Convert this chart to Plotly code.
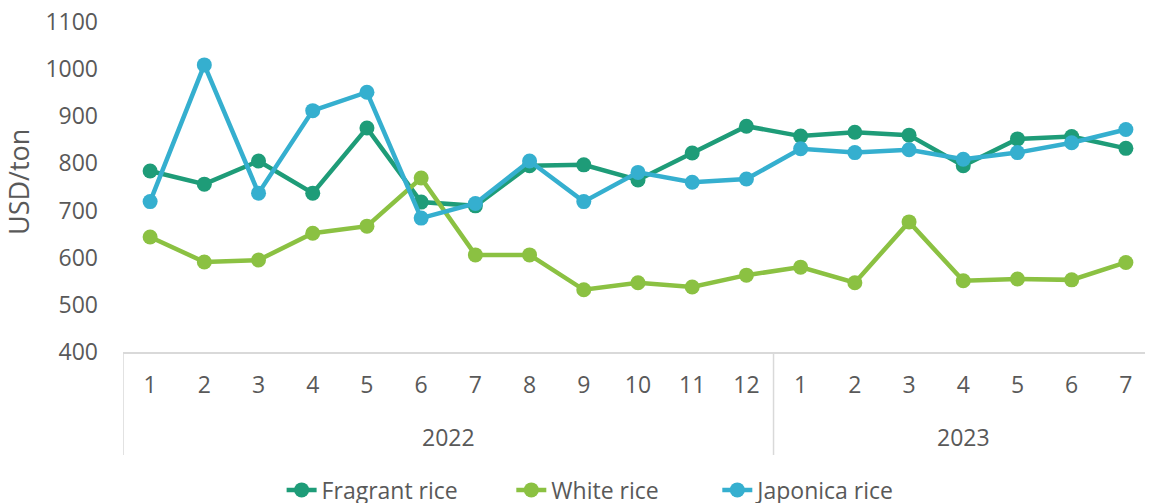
import plotly.graph_objects as go

years = ["2022"] * 12 + ["2023"] * 7
months = [str(m) for m in range(1, 13)] + [str(m) for m in range(1, 8)]
categories = [f"{y}-{m}" for y, m in zip(years, months)]

fragrant = [784, 756, 805, 737, 875, 718, 710, 795, 797, 765, 822, 879,
            858, 866, 860, 795, 852, 857, 832]
white = [644, 591, 595, 652, 667, 769, 606, 606, 532, 547, 538, 563,
         580, 547, 676, 551, 555, 553, 590]
japonica = [719, 1009, 737, 912, 951, 684, 715, 805, 719, 781, 760, 767,
            831, 823, 829, 809, 823, 844, 872]

series = [
    ("Fragrant rice", fragrant, "#1E9C78", "legend", 0.154),
    ("White rice", white, "#8BC142", "legend2", 0.377),
    ("Japonica rice", japonica, "#35AFCF", "legend3", 0.577),
]

FONT = "Open Sans"
TXT = "#595959"
FS = 23

fig = go.Figure()
for name, vals, col, lg, _ in series:
    fig.add_trace(go.Scatter(
        x=categories, y=vals, name=name, mode="lines+markers",
        line=dict(color=col, width=4.5),
        marker=dict(color=col, size=15),
        legend=lg,
    ))

fig.update_xaxes(
    type="category", tickmode="array", tickvals=categories, ticktext=months,
    tickangle=0,
    showgrid=False, showline=True, linecolor="#d9d9d9", linewidth=2,
    ticks="", ticklabelstandoff=11, tickfont=dict(family=FONT, size=FS, color=TXT),
    range=[-0.5, len(categories) - 0.5], zeroline=False, automargin=False,
)
fig.update_yaxes(
    range=[400, 1100], dtick=100, showgrid=False, zeroline=False, showline=False,
    ticks="", ticklabelstandoff=24, ticklabeloverflow="allow",
    tickfont=dict(family=FONT, size=FS, color=TXT),
    automargin=False,
)

# y-axis title
fig.add_annotation(x=-0.102, y=0.515, xref="paper", yref="paper", text="USD/ton",
                   textangle=-90, showarrow=False, xanchor="center", yanchor="middle",
                   font=dict(family=FONT, size=27, color=TXT))

# year group labels and dividers
fig.add_annotation(x=5.5, y=-0.258, xref="x", yref="paper", yanchor="middle",
                   text="2022", showarrow=False, font=dict(family=FONT, size=FS, color=TXT))
fig.add_annotation(x=15, y=-0.258, xref="x", yref="paper", yanchor="middle",
                   text="2023", showarrow=False, font=dict(family=FONT, size=FS, color=TXT))
for xv in [-0.5, 11.5]:
    fig.add_shape(type="line", xref="x", yref="paper", x0=xv, x1=xv, y0=0, y1=-0.312,
                  line=dict(color="#d9d9d9", width=1.5))

legend_style = dict(orientation="h", xanchor="left", y=-0.418, yanchor="middle",
                    bgcolor="rgba(0,0,0,0)",
                    font=dict(family=FONT, size=FS, color=TXT))

# page body adds an 8px margin, so the figure is 8px smaller than the window
fig.update_layout(
    width=1145, height=495,
    margin=dict(l=115, r=0, t=14, b=151, autoexpand=False),
    plot_bgcolor="white", paper_bgcolor="white",
    showlegend=True,
    legend=dict(x=series[0][4], **legend_style),
    legend2=dict(x=series[1][4], **legend_style),
    legend3=dict(x=series[2][4], **legend_style),
)

fig.write_html("out.html")
